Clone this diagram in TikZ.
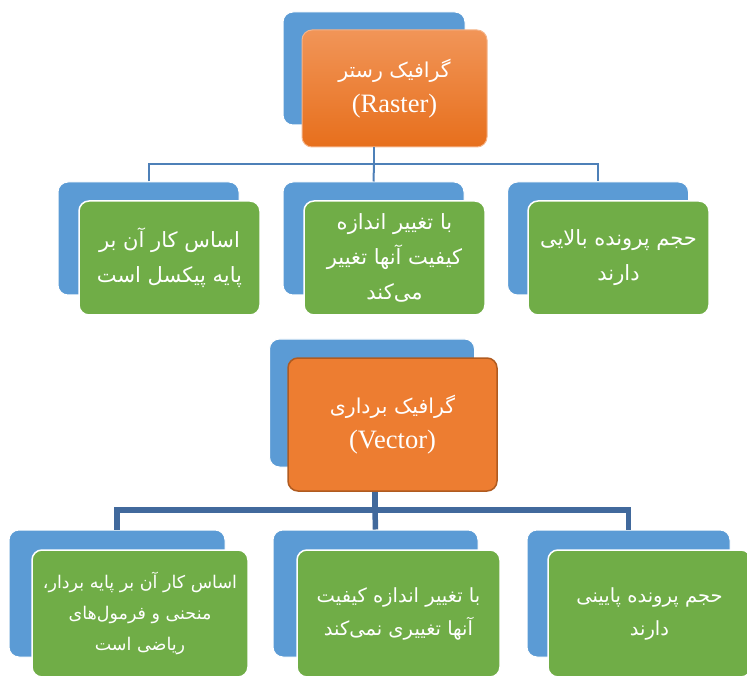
\documentclass[tikz,border=0pt]{standalone}
\usepackage{fontspec}
\setmainfont{Liberation Serif}
\newfontfamily\arabicfont[Script=Arabic]{DejaVu Sans}
\TeXXeTstate=1
% one right-to-left line of Persian text
\newcommand\fa[1]{{\arabicfont\beginR #1\endR}}
% Persian title line, set smaller than the Latin line under it
\newcommand\fatitle[1]{{\fontsize{20.5}{35}\selectfont\arabicfont\beginR #1\endR}}

\definecolor{backblue}{HTML}{5B9BD5}
\definecolor{leafgreen}{HTML}{70AD47}
\definecolor{vecorange}{HTML}{ED7D31}
\definecolor{vecedge}{HTML}{B05B20}
\definecolor{rastop}{HTML}{F19558}
\definecolor{rasbot}{HTML}{E76F1C}
\definecolor{rasedge}{HTML}{F5B48A}
\definecolor{thinline}{HTML}{4E80B8}
\definecolor{thickline}{HTML}{41699C}

\begin{document}
\begin{tikzpicture}[x=1pt,y=-1pt,
  box/.style={rectangle, rounded corners=10pt, inner sep=0pt, align=center, text=white},
  backbox/.style={box, fill=backblue, draw=white, line width=1pt},
  leafbox/.style={box, fill=leafgreen, draw=white, line width=1.5pt},
  rasterbox/.style={box, top color=rastop, bottom color=rasbot, draw=rasedge, line width=1pt},
  vectorbox/.style={box, fill=vecorange, draw=vecedge, line width=1.5pt},
  toprow/.style={font=\fontsize{21}{35}\selectfont},
  botrow/.style={font=\fontsize{19.5}{33}\selectfont},
  botrowsmall/.style={font=\fontsize{17.5}{31}\selectfont},
  titletext/.style={font=\fontsize{26.5}{35}\selectfont},
  thinconn/.style={draw=thinline, line width=2pt},
  thickconn/.style={draw=thickline, line width=5.5pt},
]
\useasboundingbox (0,0) rectangle (747,676);
\clip (0,0) rectangle (747,676);

% ---- Raster ----
\node[backbox, minimum width=182pt, minimum height=113pt] (rback) at (374,68.5) {};
\node[rasterbox, titletext, minimum width=185pt, minimum height=117pt] (raster) at (394.5,88.5)
  {\fatitle{گرافیک رستر}\\(Raster)};

\node[backbox, minimum width=181pt, minimum height=113pt] (r1back) at (148.5,238.5) {};
\node[leafbox, toprow, minimum width=181pt, minimum height=114pt] (r1) at (169.5,258)
  {\fa{اساس کار آن بر}\\\fa{پایه پیکسل است}};

\node[backbox, minimum width=181pt, minimum height=113pt] (r2back) at (373.5,238.5) {};
\node[leafbox, toprow, minimum width=181pt, minimum height=114pt] (r2) at (394.5,258)
  {\fa{با تغییر اندازه}\\\fa{کیفیت آنها تغییر}\\\fa{می‌کند}};

\node[backbox, minimum width=181pt, minimum height=113pt] (r3back) at (598,238.5) {};
\node[leafbox, toprow, minimum width=181pt, minimum height=114pt] (r3) at (618.5,258)
  {\fa{حجم پرونده بالایی}\\\fa{دارند}};

\coordinate (rbus) at (374,164);
\draw[thinconn] (raster.south -| rback.center) -- (rbus);
\draw[thinconn] (r1back.north) |- (rbus) -| (r3back.north);
\draw[thinconn] (rbus) -- (r2back.north);

% ---- Vector ----
\node[backbox, minimum width=205pt, minimum height=128pt] (vback) at (372,403) {};
\node[vectorbox, titletext, minimum width=209pt, minimum height=133pt] (vector) at (392.5,424.5)
  {\fatitle{گرافیک برداری}\\(Vector)};

\node[backbox, minimum width=216pt, minimum height=127pt] (v1back) at (117,593.5) {};
\node[leafbox, botrowsmall, minimum width=216pt, minimum height=127pt] (v1) at (140,613.5)
  {\fa{اساس کار آن بر پایه بردار،}\\\fa{منحنی و فرمول‌های}\\\fa{ریاضی است}};

\node[backbox, minimum width=205pt, minimum height=127pt] (v2back) at (375.5,593.5) {};
\node[leafbox, botrow, minimum width=203pt, minimum height=127pt] (v2) at (398.5,613.5)
  {\fa{با تغییر اندازه کیفیت}\\\fa{آنها تغییری نمی‌کند}};

\node[backbox, minimum width=203pt, minimum height=127pt] (v3back) at (628.5,593.5) {};
\node[leafbox, botrow, minimum width=203pt, minimum height=127pt] (v3) at (649.5,613.5)
  {\fa{حجم پرونده پایینی}\\\fa{دارند}};

\coordinate (vbus) at (375,510);
\draw[thickconn] (vector.south -| vbus) -- (vbus);
\draw[thickconn] (v1back.north) |- (vbus) -| (v3back.north);
\draw[thickconn] (vbus) -- (v2back.north);
\end{tikzpicture}
\end{document}
